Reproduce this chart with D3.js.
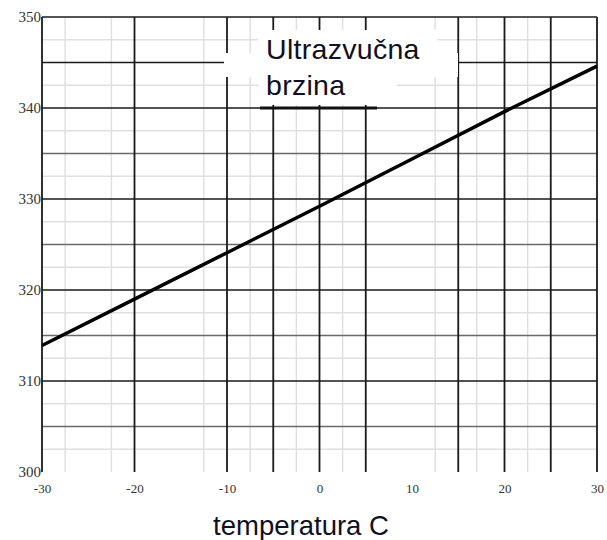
<!DOCTYPE html>
<html>
<head>
<meta charset="utf-8">
<script src="https://cdn.jsdelivr.net/npm/d3@7"></script>
<style>
  body { margin: 0; background: #fff; }
  svg { display: block; }
</style>
</head>
<body>
<svg id="chart" width="607" height="540"></svg>
<script>
// temperatura (C) i brzina zvuka (m/s)
const temps = [-30, -20, -10, 0, 10, 20, 30];
const speeds = [313.9, 319.0, 324.1, 329.2, 334.4, 339.6, 344.6];

const xTicks = [-30, -20, -10, 0, 10, 20, 30];
const yTicks = [300, 310, 320, 330, 340, 350];

// mreza
const darkX = [-30, -20, -10, -5, 0, 5, 15, 20, 25, 30];
const lightX = [-27.5, -22.5, -12.5, -7.5, -2.5, 2.5, 12.5, 17, 22.5];
const darkY = [310, 320, 330, 340, 345, 350];
const midY = [305, 315, 325, 335];
const lightY = [302.5, 307.5, 312.5, 317.5, 322.5, 327.5, 332.5, 337.5, 342.5, 347.5];

const titleLines = ['Ultrazvučna', 'brzina'];
const xTitle = 'temperatura C';

const svg = d3.select('#chart');
const x = d3.scaleLinear().domain([-30, 30]).range([42, 597]);
const y = d3.scaleLinear().domain([300, 350]).range([472, 17]);

const grid = svg.append('g');

function vLines(vals, color, w) {
    grid.append('g').selectAll('line').data(vals).join('line')
        .attr('x1', d => x(d)).attr('x2', d => x(d))
        .attr('y1', y(350)).attr('y2', y(300))
        .attr('stroke', color).attr('stroke-width', w);
}
function hLines(vals, color, w) {
    grid.append('g').selectAll('line').data(vals).join('line')
        .attr('x1', x(-30)).attr('x2', x(30))
        .attr('y1', d => y(d)).attr('y2', d => y(d))
        .attr('stroke', color).attr('stroke-width', w);
}

hLines(lightY, '#e0e0e0', 1.5);
vLines(lightX, '#e0e0e0', 1.5);
hLines(midY, '#6a6a6a', 1.5);
hLines(darkY, '#1a1a1a', 1.5);
vLines(darkX, '#1a1a1a', 1.8);

// bijela pozadina naslova
const box = svg.append('g');
box.append('rect').attr('x', 224).attr('y', 53).attr('width', 234).attr('height', 24).attr('fill', '#fff');
box.append('rect').attr('x', 258).attr('y', 30).attr('width', 179).attr('height', 47).attr('fill', '#fff');
box.append('rect').attr('x', 258).attr('y', 77).attr('width', 139).attr('height', 28).attr('fill', '#fff');

// podcrtano
svg.append('line')
    .attr('x1', 260).attr('x2', 377)
    .attr('y1', y(340)).attr('y2', y(340))
    .attr('stroke', '#111').attr('stroke-width', 3);

svg.append('g').selectAll('text').data(titleLines).join('text')
    .attr('x', 266)
    .attr('y', (d, i) => 59 + i * 36)
    .attr('font-family', 'Arial, "Liberation Sans", sans-serif')
    .attr('font-size', 28.5)
    .attr('letter-spacing', 0.3)
    .attr('fill', '#101022')
    .text(d => d);

// linija
const line = d3.line().x((d, i) => x(temps[i])).y(d => y(d));
svg.append('path')
    .datum(speeds)
    .attr('d', line)
    .attr('fill', 'none')
    .attr('stroke', '#000')
    .attr('stroke-width', 3.5);

// osi
const fmt = d => String(d);
const yAxis = svg.append('g')
    .attr('transform', `translate(${x(-30)},0)`)
    .call(d3.axisLeft(y).tickValues(yTicks).tickSize(0).tickPadding(1).tickFormat(fmt));
yAxis.select('.domain').remove();
yAxis.selectAll('text')
    .attr('font-family', '"Liberation Serif", "Times New Roman", serif')
    .attr('font-size', 15)
    .attr('fill', '#333');

const xAxis = svg.append('g')
    .attr('transform', `translate(0,${y(300)})`)
    .call(d3.axisBottom(x).tickValues(xTicks).tickSize(0).tickPadding(12).tickFormat(fmt));
xAxis.select('.domain').remove();
xAxis.selectAll('text')
    .attr('font-family', '"Liberation Serif", "Times New Roman", serif')
    .attr('font-size', 13)
    .attr('fill', '#333');

svg.append('text')
    .attr('x', 301)
    .attr('y', 535)
    .attr('text-anchor', 'middle')
    .attr('font-family', 'Arial, "Liberation Sans", sans-serif')
    .attr('font-size', 27.5)
    .attr('fill', '#101022')
    .text(xTitle);
</script>
</body>
</html>
